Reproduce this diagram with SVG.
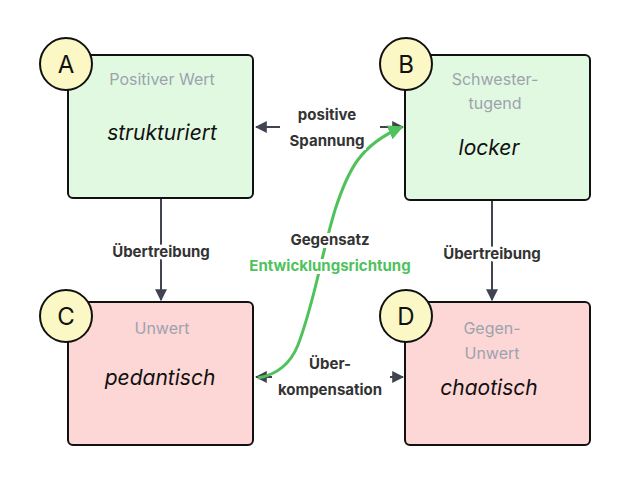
<svg xmlns="http://www.w3.org/2000/svg" width="621" height="489" viewBox="0 0 621 489">
<style>
.box{stroke:#111;stroke-width:2}
.g{fill:#e2f9e1}.r{fill:#fdd6d6}
.c{fill:#fbf8c5;stroke:#111;stroke-width:2}
.ct{font:24px Inter,"Liberation Sans",sans-serif;fill:#111;text-anchor:middle}
.sub{font:16px Inter,"Liberation Sans",sans-serif;fill:#9ca3af;text-anchor:middle}
.main{font:italic 21px Inter,"Liberation Sans",sans-serif;fill:#111;text-anchor:middle}
.lbl{font:bold 15px Inter,"Liberation Sans",sans-serif;fill:#333;text-anchor:middle}
.e{stroke:#3f4450;stroke-width:2;fill:none}
</style>
<defs>
<marker id="a" viewBox="0 0 10 10" refX="9" refY="5" markerWidth="6" markerHeight="6" orient="auto-start-reverse"><path d="M0,0L10,5L0,10z" fill="#3f4450"/></marker>
<marker id="ag" viewBox="0 0 10 10" refX="9" refY="5" markerWidth="5" markerHeight="5" orient="auto"><path d="M0,0L10,5L0,10z" fill="#4fc25c"/></marker>
</defs>
<rect width="621" height="489" fill="#fff"/>
<g id="connectors">
<path class="e" d="M380,127H403" marker-end="url(#a)"/>
<path class="e" d="M280,127H256" marker-end="url(#a)"/>
<path class="e" d="M161,199V300" marker-end="url(#a)"/>
<path class="e" d="M492,201V300" marker-end="url(#a)"/>
<path class="e" d="M272,377H256" marker-end="url(#a)"/>
<path class="e" d="M390,377H403" marker-end="url(#a)"/>
<path d="M258,378C275,375 290,365 298,345C315,300 320,260 335,210C348,170 360,145 402,127" fill="none" stroke="#4fc25c" stroke-width="3" marker-end="url(#ag)"/>
<rect x="282" y="100" width="84" height="50" fill="#fff"/>
<text class="lbl" x="327" y="120">positive</text>
<text class="lbl" x="327" y="146">Spannung</text>
<text class="lbl" x="161" y="257" style="paint-order:stroke" stroke="#fff" stroke-width="6">Übertreibung</text>
<text class="lbl" x="492" y="259" style="paint-order:stroke" stroke="#fff" stroke-width="6">Übertreibung</text>
<text class="lbl" x="330" y="245" style="paint-order:stroke" stroke="#fff" stroke-width="6">Gegensatz</text>
<text class="lbl" x="330" y="271" fill="#4fc25c" style="fill:#4fc25c;paint-order:stroke" stroke="#fff" stroke-width="6">Entwicklungsrichtung</text>
<text class="lbl" x="330" y="369">Über-</text>
<text class="lbl" x="330" y="395">kompensation</text>
</g>
<g id="A"><rect class="box g" x="68" y="55" width="185" height="143" rx="5"/><circle class="c" cx="66" cy="64" r="26"/><text class="ct" x="66" y="73">A</text><text class="sub" x="162" y="85">Positiver Wert</text><text class="main" x="162" y="140">strukturiert</text></g>
<g id="B"><rect class="box g" x="405" y="55" width="185" height="145" rx="5"/><circle class="c" cx="406" cy="64" r="26"/><text class="ct" x="406" y="73">B</text><text class="sub" x="495" y="85">Schwester-</text><text class="sub" x="495" y="109">tugend</text><text class="main" x="489" y="155">locker</text></g>
<g id="C"><rect class="box r" x="68" y="302" width="185" height="143" rx="5"/><circle class="c" cx="66" cy="316" r="26"/><text class="ct" x="66" y="325">C</text><text class="sub" x="162" y="334">Unwert</text><text class="main" x="160" y="385">pedantisch</text></g>
<g id="D"><rect class="box r" x="405" y="302" width="185" height="143" rx="5"/><circle class="c" cx="406" cy="316" r="26"/><text class="ct" x="406" y="325">D</text><text class="sub" x="492" y="334">Gegen-</text><text class="sub" x="492" y="359">Unwert</text><text class="main" x="489" y="395">chaotisch</text></g>
</svg>
